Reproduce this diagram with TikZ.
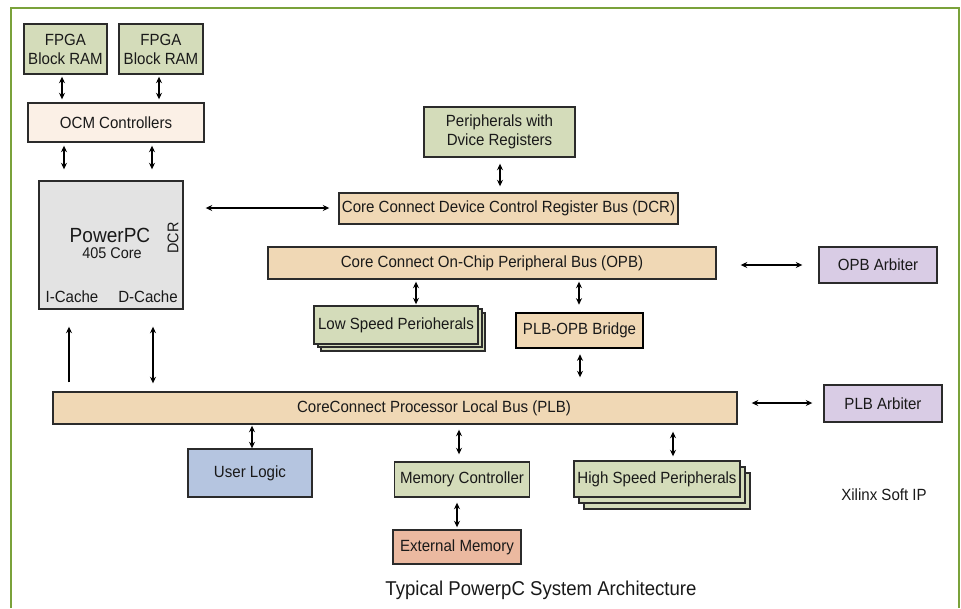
\documentclass[tikz,border=0pt]{standalone}
\usepackage{fontspec}
\setmainfont[FakeStretch=0.93]{Liberation Sans}
\usetikzlibrary{arrows.meta}
\definecolor{frame}{HTML}{7AA23A}
\definecolor{sage}{HTML}{D4DCBA}
\definecolor{ocmc}{HTML}{FBF0E6}
\definecolor{ppc}{HTML}{E3E3E3}
\definecolor{busc}{HTML}{F0D8B5}
\definecolor{userc}{HTML}{B5C5E0}
\definecolor{extc}{HTML}{EBB9A0}
\definecolor{arbc}{HTML}{D9CCE5}
\definecolor{edge}{HTML}{2B2B2B}
\tikzset{
  box/.style={draw=edge, line width=1.4pt, inner sep=0pt, align=center,
    font=\fontsize{16.2}{19}\selectfont, text=black!90},
  greenbox/.style={box, fill=sage},
  busbox/.style={box, fill=busc},
  arbbox/.style={box, fill=arbc},
  lbl/.style={inner sep=0pt, font=\fontsize{16.2}{19}\selectfont, text=black!90},
  dbl/.style={line width=1.3pt, {Stealth[length=6.5pt,width=6pt]}-{Stealth[length=6.5pt,width=6pt]}},
  sgl/.style={line width=1.3pt, -{Stealth[length=6.5pt,width=6pt]}}
}
\begin{document}
\begin{tikzpicture}[x=1pt,y=-1pt]
\useasboundingbox (0,0) rectangle (961,608);
\fill[white] (0,0) rectangle (961,608);
\draw[frame, line width=2pt] (11,608) -- (11,8) -- (959,8) -- (959,608);

% top-left blocks
\node[greenbox, minimum width=83pt, minimum height=50pt] (ram1) at (65.5,49) {FPGA\\Block RAM};
\node[greenbox, minimum width=84pt, minimum height=50pt] (ram2) at (161,49) {FPGA\\Block RAM};
\node[box, fill=ocmc, minimum width=176pt, minimum height=39pt] (ocm) at (116,122.5) {OCM Controllers};
\node[box, fill=ppc, minimum width=144pt, minimum height=128pt] (pp) at (111,245) {};
\node[lbl, font=\fontsize{20.5}{24}\selectfont] (ppt) at (110,235) {PowerPC};
\node[lbl, font=\fontsize{15.5}{18}\selectfont] (ppc) at (112,253.5) {405 Core};
\node[lbl, font=\fontsize{15.5}{18}\selectfont, rotate=90] (ppd) at (173,238) {DCR};
\node[lbl] (icache) at (72,297) {I-Cache};
\node[lbl] (dcache) at (148,297) {D-Cache};

% middle
\node[greenbox, minimum width=151pt, minimum height=50pt] (perh) at (499.5,132) {Peripherals with\\Dvice Registers};
\node[busbox, minimum width=339pt, minimum height=31pt] (dcr) at (508.5,208.5) {Core Connect Device Control Register Bus (DCR)};
\node[busbox, minimum width=448pt, minimum height=32pt] (opb) at (492,263) {Core Connect On-Chip Peripheral Bus (OPB)};
\node[greenbox, minimum width=164pt, minimum height=38pt] (lsp3) at (403,332) {};
\node[greenbox, minimum width=164pt, minimum height=38pt] (lsp2) at (400,328) {};
\node[greenbox, minimum width=164pt, minimum height=38pt] (lsp) at (396,325) {Low Speed Perioherals};
\node[box, draw=black, line width=2.6pt, fill=busc, minimum width=127pt, minimum height=35pt] (bridge) at (579.5,330.5) {PLB-OPB Bridge};
\node[busbox, minimum width=684pt, minimum height=32pt] (plb) at (395,408) {};
\node[lbl] (plbt) at (434,408) {CoreConnect Processor Local Bus (PLB)};

% bottom
\node[box, fill=userc, minimum width=124pt, minimum height=48pt] (ul) at (250,473) {User Logic};
\node[greenbox, minimum width=135pt, minimum height=35pt] (mc) at (462,479.5) {Memory Controller};
\node[box, fill=extc, minimum width=128pt, minimum height=34pt] (ext) at (457,547) {External Memory};
\node[greenbox, minimum width=166pt, minimum height=36pt] (hsp3) at (667,491) {};
\node[greenbox, minimum width=166pt, minimum height=36pt] (hsp2) at (662,485) {};
\node[greenbox, minimum width=166pt, minimum height=36pt] (hsp) at (657,479) {High Speed Peripherals};

% arbiters
\node[arbbox, minimum width=118pt, minimum height=36pt] (opba) at (878,265) {OPB Arbiter};
\node[arbbox, minimum width=118pt, minimum height=37pt] (plba) at (883,403.5) {PLB Arbiter};

\node[lbl] (xil) at (884,495) {Xilinx Soft IP};
\node[lbl, font=\fontsize{20}{24}\selectfont] (title) at (541,590) {Typical PowerpC System Architecture};

% connector x/y positions
\coordinate (k1) at (62,0);
\coordinate (k2) at (159,0);
\coordinate (k3) at (64,0);
\coordinate (k3b) at (152,0);
\coordinate (k4) at (0,208);
\coordinate (k5) at (500,0);
\coordinate (k6) at (416,0);
\coordinate (k7) at (579,0);
\coordinate (k8) at (580,0);
\coordinate (k9) at (69,0);
\coordinate (k10) at (153,0);
\coordinate (k11) at (252,0);
\coordinate (k12) at (459,0);
\coordinate (k13) at (673,0);
\coordinate (k14) at (457,0);
\coordinate (k15) at (0,265);
\coordinate (k16) at (0,403);

\draw[dbl, shorten <=2pt, shorten >=3pt] (k1 |- ram1.south) -- (k1 |- ocm.north);
\draw[dbl, shorten <=2pt, shorten >=3pt] (k2 |- ram2.south) -- (k2 |- ocm.north);
\draw[dbl, shorten <=3pt, shorten >=11pt] (k3 |- ocm.south) -- (k3 |- pp.north);
\draw[dbl, shorten <=3pt, shorten >=11pt] (k3b |- ocm.south) -- (k3b |- pp.north);
\draw[dbl, shorten <=22pt, shorten >=9pt] (k4 -| pp.east) -- (k4 -| dcr.west);
\draw[dbl, shorten <=6pt, shorten >=6pt] (k5 |- perh.south) -- (k5 |- dcr.north);
\draw[dbl, shorten <=2pt, shorten >=1pt] (k6 |- opb.south) -- (k6 |- lsp.north);
\draw[dbl, shorten <=2pt, shorten >=7pt] (k7 |- opb.south) -- (k7 |- bridge.north);
\draw[dbl, shorten <=5pt, shorten >=14pt] (k8 |- bridge.south) -- (k8 |- plb.north);
\draw[sgl, shorten <=9pt, shorten >=17pt] (k9 |- plb.north) -- (k9 |- pp.south);
\draw[dbl, shorten <=17pt, shorten >=8pt] (k10 |- pp.south) -- (k10 |- plb.north);
\draw[dbl, shorten <=1pt, shorten >=0pt] (k11 |- plb.south) -- (k11 |- ul.north);
\draw[dbl, shorten <=5pt, shorten >=7pt] (k12 |- plb.south) -- (k12 |- mc.north);
\draw[dbl, shorten <=7pt, shorten >=4pt] (k13 |- plb.south) -- (k13 |- hsp.north);
\draw[dbl, shorten <=5pt, shorten >=2pt] (k14 |- mc.south) -- (k14 |- ext.north);
\draw[dbl, shorten <=24pt, shorten >=16pt] (k15 -| opb.east) -- (k15 -| opba.west);
\draw[dbl, shorten <=14pt, shorten >=11pt] (k16 -| plb.east) -- (k16 -| plba.west);
\end{tikzpicture}
\end{document}
